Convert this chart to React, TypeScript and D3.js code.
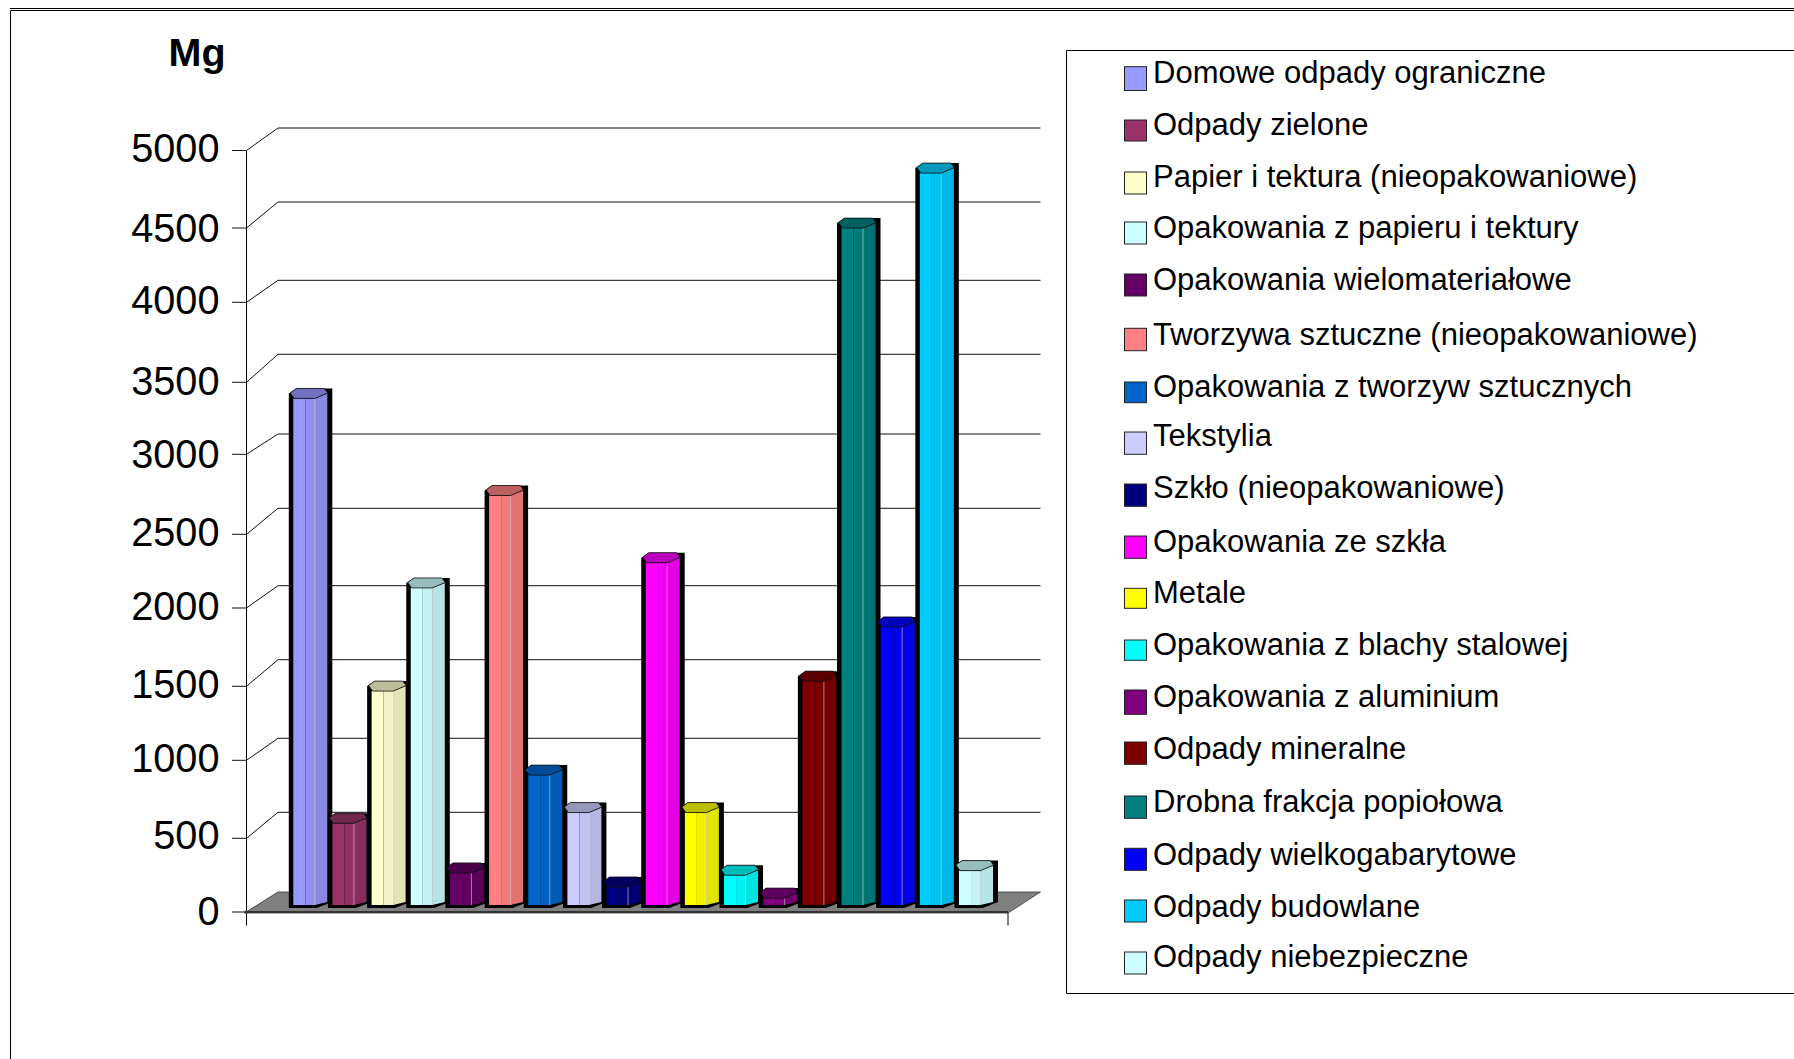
import React from "react";
import * as d3 from "d3";

// Waste fractions, masses in Mg, and the palette used for columns and legend keys.
const wasteTypes = [
  "Domowe odpady ograniczne",
  "Odpady zielone",
  "Papier i tektura (nieopakowaniowe)",
  "Opakowania z papieru i tektury",
  "Opakowania wielomateriałowe",
  "Tworzywa sztuczne (nieopakowaniowe)",
  "Opakowania z tworzyw sztucznych",
  "Tekstylia",
  "Szkło (nieopakowaniowe)",
  "Opakowania ze szkła",
  "Metale",
  "Opakowania z blachy stalowej",
  "Opakowania z aluminium",
  "Odpady mineralne",
  "Drobna frakcja popiołowa",
  "Odpady wielkogabarytowe",
  "Odpady budowlane",
  "Odpady niebezpieczne",
];
const massMg = [3315, 535, 1400, 2075, 210, 2680, 850, 605, 118, 2240, 605, 195, 45, 1465, 4430, 1820, 4790, 225];
const swatches = [
  "#9999FF", "#993366", "#FFFFCC", "#CCFFFF", "#660066", "#FF8080",
  "#0066CC", "#CCCCFF", "#000080", "#FF00FF", "#FFFF00", "#00FFFF",
  "#800080", "#800000", "#008080", "#0000FF", "#00CCFF", "#CCFFFF",
];
const axisTicks = [0, 500, 1000, 1500, 2000, 2500, 3000, 3500, 4000, 4500, 5000];

const W = 1794;
const H = 1059;
const FONT = "'Liberation Sans', Arial, sans-serif";

// Front plane of the 3D box and back wall; both snap to the coarse pixel grid of the
// chart, so each tick gets its own stop. Column bases stand on a plane between them.
const yFront = d3
  .scaleLinear()
  .domain(axisTicks)
  .range([912, 838.3, 760.3, 686.3, 608, 534.3, 454.3, 382.3, 302.3, 228, 150.5]);
const yBack = d3
  .scaleLinear()
  .domain(axisTicks)
  .range([892, 812.3, 738.3, 659.7, 585.7, 508.3, 434, 354.3, 280.3, 202, 128]);
const yTickLabel = d3
  .scaleLinear()
  .domain(axisTicks)
  .range([924.5, 849, 771.5, 697.5, 619.5, 545.5, 468, 394.5, 314, 241.5, 162.2]);
const yBar = d3.scaleLinear().domain([0, 5000]).range([905, 141]);
const xBar = d3.scaleLinear().domain([0, 17]).range([293.3, 959]);

// Legend rows are laid out unevenly, row index to pixel position.
const legendRows = d3.range(wasteTypes.length);
const yLegendText = d3
  .scaleLinear()
  .domain(legendRows)
  .range([82.7, 135, 186.7, 238.3, 290, 345, 397, 446.3, 498.3, 552.3, 603, 655, 707, 759, 812.3, 865, 917, 966.7]);
const yLegendKeyTop = d3
  .scaleLinear()
  .domain(legendRows)
  .range([66.7, 120, 172, 222, 274, 328.3, 382, 432, 484, 536, 588.3, 640, 690, 742, 796, 848.3, 900, 952]);
const yLegendKeyBottom = d3
  .scaleLinear()
  .domain(legendRows)
  .range([90.5, 141, 194, 244, 296, 350.7, 402.7, 454.3, 506.3, 558.3, 608.3, 660.3, 714.3, 764.3, 818.3, 870.3, 922, 974]);

const wallX = 246.5;
const backX = 278;
const backRight = 1040.5;
const frontRight = 1008;

const FACE = 34;

function shade(color: string, k: number) {
  const c = d3.rgb(color);
  return d3.rgb(c.r * k, c.g * k, c.b * k).formatHex();
}

const poly = d3.line<[number, number]>();
const closed = (pts: [number, number][]) => poly(pts)! + "Z";

function Column({ i }: { i: number }) {
  const x = xBar(i);
  const top = yBar(massMg[i]);
  const base = yBar(0);
  const c = swatches[i];
  const bandA = 12;
  const bandB = 21.5;
  return (
    <g>
      {/* heavy black outline behind the column */}
      <path
        d={closed([
          [x - 4.5, top - 5],
          [x + 3, top - 10],
          [x + FACE + 5, top - 10],
          [x + FACE + 5, base - 3],
          [x + bandB + 2, base + 3],
          [x - 4.5, base + 3],
        ])}
        fill="#000"
      />
      <path d={closed([[x, top], [x + bandA, top], [x + bandA, base], [x, base]])} fill={c} />
      <path d={closed([[x + bandA, top], [x + bandB, top], [x + bandB, base], [x + bandA, base]])} fill={shade(c, 0.95)} />
      <path d={closed([[x + bandB, top], [x + FACE, top - 5], [x + FACE, base - 3], [x + bandB, base]])} fill={shade(c, 0.89)} />
      <line x1={x + bandB} x2={x + bandB} y1={top} y2={base} stroke="#fff" strokeOpacity={0.5} strokeWidth={1} />
      {/* hexagonal cap */}
      <path
        d={closed([
          [x - 3, top - 5.5],
          [x + 3, top - 10],
          [x + 31, top - 10],
          [x + FACE + 0.5, top - 5.5],
          [x + bandB, top],
          [x + 1, top],
        ])}
        fill={shade(c, 0.74)}
        stroke="#111"
        strokeWidth={0.8}
      />
    </g>
  );
}

export default function App() {
  return (
    <svg
      width={W}
      height={H}
      viewBox={`0 0 ${W} ${H}`}
      style={{ position: "absolute", left: 0, top: 0, display: "block", background: "#fff" }}
    >
      {/* page frame */}
      <path d={`M10.5 ${H}V10.5H${W}`} fill="none" stroke="#000" strokeWidth={1} />
      <line x1={10} x2={W} y1={8.5} y2={8.5} stroke="#000" strokeWidth={1} />

      <text x={168.5} y={66} fontFamily={FONT} fontWeight="bold" fontSize={39.5} fill="#000">Mg</text>

      {/* walls, gridlines and ticks */}
      {axisTicks.map((t) => (
        <g key={t}>
          {t > 0 && (
            <path
              d={`M${wallX} ${yFront(t)}L${backX} ${yBack(t)}H${backRight}`}
              fill="none"
              stroke="#111"
              strokeWidth={1}
            />
          )}
          <line x1={232} x2={wallX} y1={yFront(t)} y2={yFront(t)} stroke="#111" strokeWidth={1} />
          <text
            transform={`translate(219.5 ${yTickLabel(t)}) scale(0.98 1)`}
            textAnchor="end"
            fontFamily={FONT}
            fontSize={40.5}
            fill="#000"
          >
            {t}
          </text>
        </g>
      ))}
      <line x1={wallX} x2={wallX} y1={yFront(5000)} y2={925.5} stroke="#000" strokeWidth={1} />
      <line x1={frontRight} x2={frontRight} y1={yFront(0)} y2={925.5} stroke="#000" strokeWidth={1} />

      {/* floor */}
      <path
        d={closed([
          [wallX - 2, yFront(0) + 1],
          [backX, yBack(0)],
          [backRight, yBack(0)],
          [frontRight, yFront(0) + 1],
        ])}
        fill="#808080"
        stroke="#333"
        strokeWidth={0.8}
      />
      <line x1={wallX - 2} x2={frontRight} y1={yFront(0)} y2={yFront(0)} stroke="#333" strokeWidth={2} />

      {massMg.map((_, i) => (
        <Column key={i} i={i} />
      ))}

      {/* legend */}
      <path d={`M${W} 50.5H1066.5V993.5H${W}`} fill="#fff" stroke="#000" strokeWidth={1} />
      {wasteTypes.map((name, i) => (
        <g key={name}>
          <rect
            x={1124.5}
            y={yLegendKeyTop(i)}
            width={22}
            height={yLegendKeyBottom(i) - yLegendKeyTop(i)}
            fill={swatches[i]}
            stroke="#222"
            strokeWidth={1}
          />
          <text x={1153} y={yLegendText(i)} fontFamily={FONT} fontSize={31} fill="#000">
            {name}
          </text>
        </g>
      ))}
    </svg>
  );
}
